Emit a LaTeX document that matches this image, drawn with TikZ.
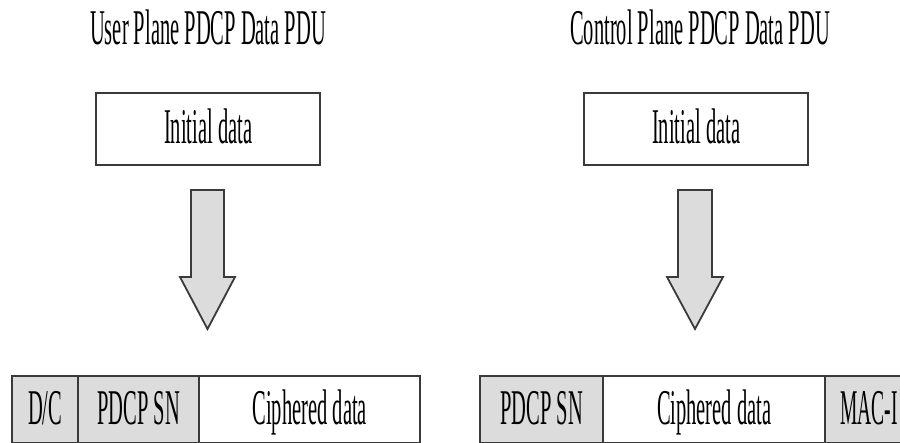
\documentclass[tikz,border=0pt]{standalone}
\usepackage{fontspec}
\setmainfont{Liberation Serif}
\usepackage{graphicx}
\definecolor{cellgray}{HTML}{DCDCDC}
\definecolor{edge}{HTML}{3A3A3A}
\newcommand{\narrow}[1]{\scalebox{0.41}[1]{#1}}
\tikzset{
  lbl/.style={font=\fontsize{50}{50}\selectfont, text=black, inner sep=0pt, anchor=base},
  cell/.style={draw=edge, line width=2.4pt, inner sep=0pt, anchor=north west},
  graycell/.style={cell, fill=cellgray},
  whitecell/.style={cell, fill=white},
  flowarrow/.style={draw=edge, line width=1.8pt, fill=cellgray, line join=miter},
}
\begin{document}
\begin{tikzpicture}[x=1pt,y=-1pt]
\useasboundingbox (0,0) rectangle (900,443);
\fill[white] (0,0) rectangle (900,443);

% ---- user plane ----
\node[lbl] (titleL) at (208,45) {\narrow{User Plane PDCP Data PDU}};
\node[whitecell, minimum width=224pt, minimum height=72pt] (initL) at (95,92) {};
\node[lbl] at ([yshift=-14pt]initL.center) {\narrow{Initial data}};
\draw[flowarrow] (191,190) -- (224,190) -- (224,277) -- (235,277) -- (207.5,329)
  -- (180,277) -- (191,277) -- cycle;

\node[graycell, minimum width=66pt, minimum height=67pt] (dc) at (11,375) {};
\node[graycell, minimum width=121pt, minimum height=67pt] (snL) at (77,375) {};
\node[whitecell, minimum width=221pt, minimum height=67pt] (cipL) at (198,375) {};
\node[lbl] at ([yshift=-15pt]dc.center) {\narrow{D/C}};
\node[lbl] at ([yshift=-15pt]snL.center) {\narrow{PDCP SN}};
\node[lbl] at ([yshift=-15pt]cipL.center) {\narrow{Ciphered data}};

% ---- control plane ----
\node[lbl] (titleR) at (700,45) {\narrow{Control Plane PDCP Data PDU}};
\node[whitecell, minimum width=224pt, minimum height=72pt] (initR) at (583,92) {};
\node[lbl] at ([yshift=-14pt]initR.center) {\narrow{Initial data}};
\draw[flowarrow] (678,190) -- (712,190) -- (712,277) -- (723,277) -- (695,329)
  -- (667,277) -- (678,277) -- cycle;

\node[graycell, minimum width=123pt, minimum height=67pt] (snR) at (479,375) {};
\node[whitecell, minimum width=222pt, minimum height=67pt] (cipR) at (602,375) {};
\node[graycell, minimum width=100pt, minimum height=67pt] (mac) at (824,375) {};
\node[lbl] at ([yshift=-15pt]snR.center) {\narrow{PDCP SN}};
\node[lbl] at ([yshift=-15pt]cipR.center) {\narrow{Ciphered data}};
\node[lbl, anchor=base west] at ([xshift=16pt,yshift=-15pt]mac.west) {\scalebox{0.39}[1]{MAC-I}};
\end{tikzpicture}
\end{document}
